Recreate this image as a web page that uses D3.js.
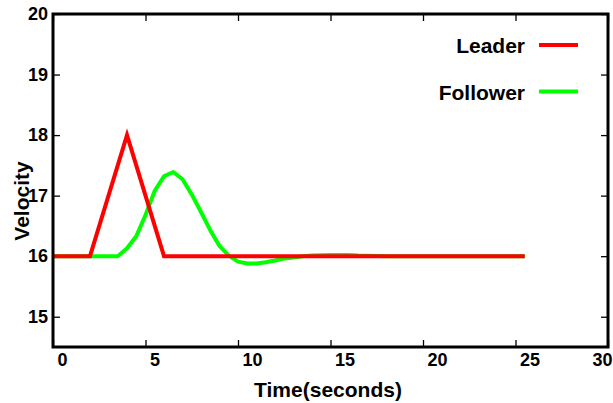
<!DOCTYPE html>
<html>
<head>
<meta charset="utf-8">
<script src="https://cdn.jsdelivr.net/npm/d3@7"></script>
<style>
	body { margin: 0; background: #fff; }
	svg { display: block; font-family: "Liberation Sans", Arial, sans-serif; }
</style>
</head>
<body>
<div id="chart"></div>
<script>
// data
const leaderTime = [0, 2, 4, 6, 25.5];
const leaderVel = [16, 16, 18, 16, 16];

const followerTime = [0, 1, 2, 3, 3.5, 4, 4.5, 5, 5.5, 6, 6.5, 7, 7.5, 8, 8.5, 9, 9.5, 10, 10.5, 11, 11.5, 12, 12.5, 13, 13.5, 14, 15, 16, 16.5, 18, 20, 22, 25.5];
const followerVel = [16, 16, 16, 16, 16, 16.13, 16.33, 16.68, 17.08, 17.32, 17.39, 17.27, 17.02, 16.73, 16.43, 16.17, 16.01, 15.91, 15.88, 15.88, 15.9, 15.93, 15.96, 15.98, 16.0, 16.01, 16.02, 16.02, 16.01, 16.0, 16.0, 16.0, 16.0];

const xTicks = [0, 5, 10, 15, 20, 25, 30];
const yTicks = [15, 16, 17, 18, 19, 20];

const seriesNames = ["Leader", "Follower"];
const seriesColors = ["#ff0000", "#00ff00"];

const W = 613, H = 403;
const margin = { top: 14, right: 5, bottom: 56, left: 53 };

const svg = d3.select("#chart")
	.append("svg")
	.attr("width", W)
	.attr("height", H);

const x = d3.scaleLinear().domain([0, 30]).range([margin.left, W - margin.right]);
const y = d3.scaleLinear().domain([14.5, 20]).range([H - margin.bottom, margin.top]);

// axes, ticks pointing inward
const xAxisBottom = svg.append("g")
	.attr("transform", `translate(0,${y.range()[0]})`)
	.call(d3.axisBottom(x).tickValues(xTicks).tickFormat(d3.format("d"))
		.tickSizeInner(-7).tickSizeOuter(0).tickPadding(6));
// labels sit just right of their tick; the last one is kept inside the window
xAxisBottom.selectAll("text")
	.attr("text-anchor", "start")
	.attr("x", d => Math.min(4, W - 21 - x(d)));

const yAxisLeft = svg.append("g")
	.attr("transform", `translate(${x.range()[0]},0)`)
	.call(d3.axisLeft(y).tickValues(yTicks).tickFormat(d3.format("d"))
		.tickSizeInner(-7).tickSizeOuter(0).tickPadding(5));

const xAxisTop = svg.append("g")
	.attr("transform", `translate(0,${y.range()[1]})`)
	.call(d3.axisTop(x).tickValues(xTicks).tickSizeInner(-7).tickSizeOuter(0).tickFormat(""));

const yAxisRight = svg.append("g")
	.attr("transform", `translate(${x.range()[1]},0)`)
	.call(d3.axisRight(y).tickValues(yTicks).tickSizeInner(-7).tickSizeOuter(0).tickFormat(""));

[xAxisBottom, yAxisLeft, xAxisTop, yAxisRight].forEach(g => {
	g.select(".domain").remove();
	g.selectAll("line").attr("stroke", "#000").attr("stroke-width", 1.3);
	g.selectAll("text")
		.attr("fill", "#000")
		.style("font-size", "18px")
		.style("font-weight", "bold")
		.style("font-family", "'Liberation Sans', Arial, sans-serif");
});

// the lines
const line = d3.line()
	.x(d => x(d[0]))
	.y(d => y(d[1]));

const follower = followerTime.map((t, i) => [t, followerVel[i]]);
const leader = leaderTime.map((t, i) => [t, leaderVel[i]]);

svg.append("path")
	.datum(follower)
	.attr("d", line)
	.attr("fill", "none")
	.attr("stroke", seriesColors[1])
	.attr("stroke-width", 4)
	.attr("stroke-linejoin", "round");

svg.append("path")
	.datum(leader)
	.attr("d", line)
	.attr("fill", "none")
	.attr("stroke", seriesColors[0])
	.attr("stroke-width", 4)
	.attr("stroke-linejoin", "miter");

// frame
svg.append("rect")
	.attr("x", x.range()[0])
	.attr("y", y.range()[1])
	.attr("width", x.range()[1] - x.range()[0])
	.attr("height", y.range()[0] - y.range()[1])
	.attr("fill", "none")
	.attr("stroke", "#000")
	.attr("stroke-width", 3);

// legend
seriesNames.forEach((name, i) => {
	const ly = 45 + i * 46.5;
	svg.append("text")
		.attr("x", 525)
		.attr("y", ly + 8)
		.attr("text-anchor", "end")
		.style("font-size", "21px")
		.style("font-weight", "bold")
		.text(name);
	svg.append("line")
		.attr("x1", 539)
		.attr("x2", 578)
		.attr("y1", ly)
		.attr("y2", ly)
		.attr("stroke", seriesColors[i])
		.attr("stroke-width", 4);
});

// axis titles
svg.append("text")
	.attr("x", 328)
	.attr("y", 397)
	.attr("text-anchor", "middle")
	.style("font-size", "21px")
	.style("font-weight", "bold")
	.text("Time(seconds)");

svg.append("text")
	.attr("transform", "translate(29,201) rotate(-90)")
	.attr("text-anchor", "middle")
	.style("font-size", "21px")
	.style("font-weight", "bold")
	.text("Velocity");
</script>
</body>
</html>
